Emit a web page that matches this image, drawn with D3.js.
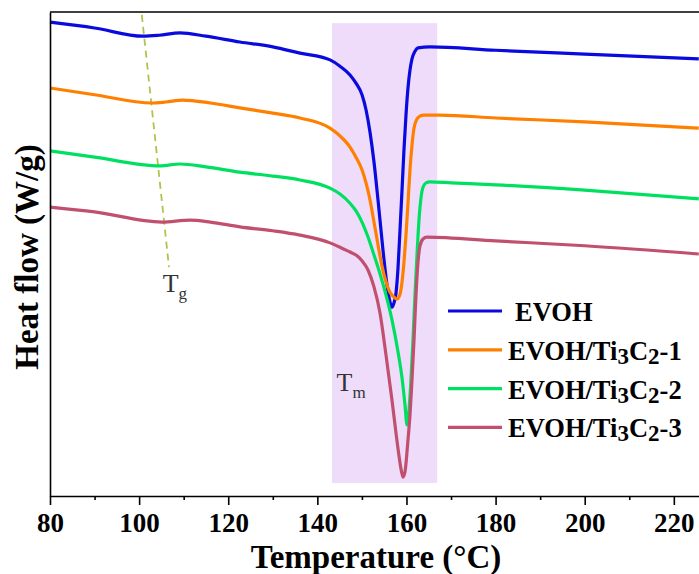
<!DOCTYPE html>
<html lang="en">
<head>
<meta charset="utf-8">
<title>DSC curves</title>
<style>
    body { margin: 0; background: #fff; }
    .curve { fill: none; stroke-width: 3.2; stroke-linejoin: round; }
    .axis path, .axis line { stroke: #000; stroke-width: 1.6; }
    .axis text { font-family: "Liberation Serif", "Times New Roman", serif; font-weight: bold; font-size: 27px; fill: #000; }
    .title { font-family: "Liberation Serif", "Times New Roman", serif; font-weight: bold; fill: #000; }
    .legend text { font-family: "Liberation Serif", "Times New Roman", serif; font-weight: bold; font-size: 26.5px; fill: #000; }
    .note { font-family: "Liberation Serif", "Times New Roman", serif; fill: #333; }
</style>
</head>
<body>
<div id="chart"></div>
<script src="https://d3js.org/d3.v7.min.js"></script>
<script>

// temperature (°C) and heat flow (arbitrary offset, W/g)
var tEVOH  = [80, 90, 100.9, 104.5, 109.2, 115, 122.6, 130, 136.1, 142.84, 145.08, 147.33, 148.67, 150.02, 150.92, 151.81, 152.71, 153.61, 154.73, 155.63, 156.3, 156.75, 157.2, 157.65, 158.1, 158.55, 159, 159.44, 159.89, 160.34, 160.79, 161.24, 161.91, 162.59, 165.3, 180, 200, 225.6];
var hfEVOH = [9.79, 9.67, 9.50, 9.52, 9.57, 9.50, 9.38, 9.28, 9.15, 9.01, 8.88, 8.70, 8.53, 8.29, 7.98, 7.52, 6.90, 6.12, 5.08, 4.36, 4.01, 3.90, 3.99, 4.19, 4.71, 5.50, 6.32, 7.15, 7.87, 8.43, 8.80, 9.03, 9.19, 9.26, 9.28, 9.21, 9.13, 9.03];

var tTi1  = [80, 90, 102.9, 106, 109.8, 116, 122.6, 130, 136.1, 142.84, 145.08, 147.33, 148.67, 150.02, 150.92, 151.81, 152.71, 153.61, 154.51, 155.41, 156.3, 157.2, 157.87, 158.55, 159, 159.44, 159.89, 160.34, 160.79, 161.24, 161.69, 162.36, 163.04, 163.93, 167.5, 180, 200, 225.6];
var hfTi1 = [8.43, 8.29, 8.12, 8.14, 8.18, 8.12, 8.02, 7.91, 7.81, 7.60, 7.44, 7.21, 7.00, 6.74, 6.47, 6.12, 5.66, 5.19, 4.75, 4.42, 4.21, 4.11, 4.07, 4.17, 4.42, 4.83, 5.39, 6.05, 6.74, 7.25, 7.60, 7.79, 7.85, 7.87, 7.87, 7.81, 7.73, 7.60];

var tTi2  = [80, 90, 104.7, 109.2, 115, 122.6, 130, 136.1, 142.84, 145.08, 147.33, 148.67, 150.02, 151.37, 152.71, 154.06, 155.41, 156.75, 158.1, 159, 159.67, 160.12, 160.57, 161.01, 161.46, 161.91, 162.36, 162.81, 163.26, 163.71, 164.38, 165.28, 170, 180, 200, 225.6];
var hfTi2 = [7.13, 7.00, 6.82, 6.86, 6.80, 6.69, 6.61, 6.53, 6.36, 6.24, 6.05, 5.89, 5.66, 5.35, 4.98, 4.59, 4.15, 3.64, 2.98, 2.44, 1.88, 1.47, 1.78, 2.40, 3.22, 4.15, 4.98, 5.70, 6.16, 6.38, 6.47, 6.49, 6.47, 6.43, 6.32, 6.14];

var tTi3  = [80, 90, 105.1, 111.4, 116, 122.6, 130, 136.1, 142.84, 145.08, 147.33, 148.67, 150.02, 151.37, 152.71, 154.06, 155.41, 156.75, 157.65, 158.32, 158.77, 159.22, 159.67, 160.34, 160.79, 161.24, 161.69, 162.14, 162.59, 163.04, 163.71, 164.61, 180, 200, 225.6];
var hfTi3 = [5.97, 5.87, 5.66, 5.70, 5.66, 5.56, 5.48, 5.39, 5.23, 5.14, 5.04, 4.98, 4.86, 4.67, 4.32, 3.78, 2.91, 1.98, 1.30, 0.83, 0.56, 0.39, 0.50, 1.16, 1.67, 2.40, 3.22, 4.15, 4.83, 5.17, 5.31, 5.35, 5.27, 5.17, 5.00];

var seriesNames  = ["EVOH", "EVOH/Ti3C2-1", "EVOH/Ti3C2-2", "EVOH/Ti3C2-3"];
var seriesColors = ["#0a0ade", "#ff8000", "#00e060", "#c1506e"];

var xTicks = [80, 100, 120, 140, 160, 180, 200, 220];
var xMinorTicks = [90, 110, 130, 150, 170, 190, 210];

// melting region and glass transition guide
var tmBand = [143.3, 166.9];
var tmBandHF = [0.27, 9.77];
var tgLineT = [100.6, 106.7];
var tgLineHF = [9.94, 4.73];

var series = [
    {name: seriesNames[0], color: seriesColors[0], t: tEVOH, hf: hfEVOH},
    {name: seriesNames[1], color: seriesColors[1], t: tTi1, hf: hfTi1},
    {name: seriesNames[2], color: seriesColors[2], t: tTi2, hf: hfTi2},
    {name: seriesNames[3], color: seriesColors[3], t: tTi3, hf: hfTi3}
];

var W = 699, H = 574;
var margin = {left: 50, top: 12, right: 0, bottom: 78};
var width = W - margin.left - margin.right,
    height = H - margin.top - margin.bottom;

var svg = d3.select("#chart").append("svg")
    .attr("width", W).attr("height", H);

var g = svg.append("g")
    .attr("transform", "translate(" + margin.left + "," + margin.top + ")");

var x = d3.scaleLinear().domain([80, 225.65]).range([0, width]);
var y = d3.scaleLinear().domain([0, 10]).range([height, 0]);

// Tm band
g.append("rect")
    .attr("x", x(tmBand[0]))
    .attr("y", y(tmBandHF[1]))
    .attr("width", x(tmBand[1]) - x(tmBand[0]))
    .attr("height", y(tmBandHF[0]) - y(tmBandHF[1]))
    .attr("fill", "#eedcfa");

// Tg guide
g.append("line")
    .attr("x1", x(tgLineT[0])).attr("y1", y(tgLineHF[0]))
    .attr("x2", x(tgLineT[1])).attr("y2", y(tgLineHF[1]))
    .attr("stroke", "#aec44c")
    .attr("stroke-width", 1.8)
    .attr("stroke-dasharray", "7,5");

var line = d3.line()
    .x(function(d) { return x(d[0]); })
    .y(function(d) { return y(d[1]); })
    .curve(d3.curveMonotoneX);

g.selectAll(".curve")
    .data(series)
    .enter().append("path")
    .attr("class", "curve")
    .attr("stroke", function(d) { return d.color; })
    .attr("d", function(d) { return line(d3.zip(d.t, d.hf)); });

// axes
var xAxis = g.append("g")
    .attr("class", "axis")
    .attr("transform", "translate(0," + height + ")")
    .call(d3.axisBottom(x).tickValues(xTicks).tickSize(9).tickSizeOuter(0).tickPadding(8));
xAxis.selectAll("text").attr("dy", "0.71em").attr("y", 17);

g.append("g")
    .attr("class", "axis")
    .attr("transform", "translate(0," + height + ")")
    .call(d3.axisBottom(x).tickValues(xMinorTicks).tickSize(4).tickSizeOuter(0).tickFormat(""))
    .select(".domain").remove();

g.append("g")
    .attr("class", "axis")
    .call(d3.axisLeft(y).tickValues([]).tickSizeOuter(0));

g.append("line")
    .attr("x1", 0).attr("x2", width)
    .attr("y1", 0).attr("y2", 0)
    .attr("stroke", "#000").attr("stroke-width", 1.6);

// titles
svg.append("text")
    .attr("class", "title")
    .attr("x", 376)
    .attr("y", 568)
    .attr("text-anchor", "middle")
    .style("font-size", "33px")
    .text("Temperature (\u00B0C)");

svg.append("text")
    .attr("class", "title")
    .attr("transform", "translate(38," + (margin.top + height / 2 + 3) + ") rotate(-90)")
    .attr("text-anchor", "middle")
    .style("font-size", "33px")
    .text("Heat flow (W/g)");

// annotations
function subLabel(t, hf, main, sub) {
    var tx = g.append("text").attr("class", "note")
        .attr("x", x(t)).attr("y", y(hf))
        .style("font-size", "26px");
    tx.append("tspan").text(main);
    tx.append("tspan").attr("dy", 7).style("font-size", "17px").text(sub);
}
subLabel(105.3, 4.21, "T", "g");
subLabel(144.3, 2.16, "T", "m");

// legend
var legend = g.append("g").attr("class", "legend")
    .attr("transform", "translate(" + (448 - margin.left) + "," + (311 - margin.top) + ")");

var item = legend.selectAll("g")
    .data(series)
    .enter().append("g")
    .attr("transform", function(d, i) { return "translate(0," + (i * 38.8) + ")"; });

item.append("line")
    .attr("x1", 0).attr("x2", 54)
    .attr("stroke", function(d) { return d.color; })
    .attr("stroke-width", 3.2);

item.append("text")
    .attr("x", function(d, i) { return i === 0 ? 67 : 60; })
    .attr("y", 10)
    .each(function(d) {
        var t = d3.select(this);
        // split into chunks so the digits after Ti and C sit low
        var parts = d.name.match(/^(.*?Ti)(3)(C)(2)(.*)$/);
        if (!parts) { t.text(d.name); return; }
        t.append("tspan").text(parts[1]);
        t.append("tspan").attr("dy", 4).style("font-size", "23px").text(parts[2]);
        t.append("tspan").attr("dy", -4).text(parts[3]);
        t.append("tspan").attr("dy", 4).style("font-size", "23px").text(parts[4]);
        t.append("tspan").attr("dy", -4).text(parts[5]);
    });

</script>
</body>
</html>
